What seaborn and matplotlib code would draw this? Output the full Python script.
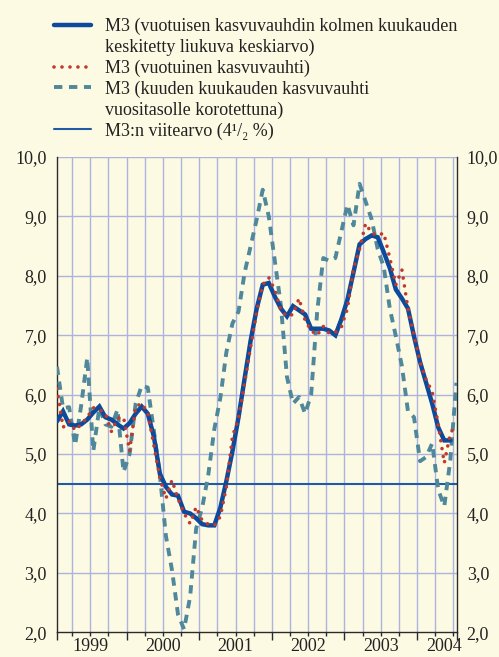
import numpy as np
import pandas as pd
import matplotlib
matplotlib.use("Agg")
import matplotlib.pyplot as plt
import matplotlib.transforms as mtransforms
from matplotlib.lines import Line2D
from matplotlib.font_manager import FontProperties
import seaborn as sns

# ---------------- data (monthly, Jan 1999 = month 0) ----------------
years = ["1999", "2000", "2001", "2002", "2003", "2004"]
year_label_pos = [5.5, 17.5, 29.5, 41.5, 53.5, 64.0]

m3_centered_avg = [5.55, 5.72, 5.50, 5.48, 5.50, 5.58, 5.70, 5.80, 5.62, 5.58, 5.50, 5.43,
                   5.52, 5.68, 5.80, 5.68, 5.30, 4.67, 4.45, 4.32, 4.30, 4.03, 4.00, 3.92,
                   3.82, 3.80, 3.80, 4.10, 4.55, 5.05, 5.62, 6.27, 6.91, 7.45, 7.85, 7.88,
                   7.65, 7.45, 7.32, 7.49, 7.42, 7.35, 7.11, 7.11, 7.11, 7.08, 7.00, 7.27,
                   7.60, 8.06, 8.53, 8.62, 8.68, 8.65, 8.40, 8.13, 7.77, 7.62, 7.45, 6.98,
                   6.55, 6.20, 5.85, 5.45, 5.23, 5.23]

m3_annual = [6.10, 5.45, 5.55, 5.40, 5.50, 5.62, 5.78, 5.75, 5.68, 5.38, 5.60, 5.62,
             5.05, 5.80, 5.85, 5.70, 5.15, 4.60, 4.25, 4.56, 4.25, 4.00, 3.83, 4.11,
             3.88, 3.82, 3.80, 3.95, 4.45, 5.30, 5.60, 6.20, 6.80, 7.40, 7.85, 7.97,
             7.76, 7.42, 7.32, 7.35, 7.62, 7.25, 7.08, 7.00, 7.15, 7.03, 7.05, 7.14,
             7.45, 8.12, 8.45, 8.88, 8.72, 8.68, 8.72, 8.30, 7.85, 8.10, 7.45, 7.00,
             6.55, 6.25, 6.05, 5.50, 4.85, 5.35, 5.50]

m3_six_month = [6.47, 5.77, 5.79, 5.15, 5.82, 6.62, 5.05, 5.78, 5.50, 5.46, 5.75, 4.70,
                5.00, 5.85, 6.15, 6.12, 5.40, 4.65, 3.62, 3.05, 2.30, 2.05, 2.60, 3.75,
                4.10, 4.65, 5.42, 5.95, 6.72, 7.20, 7.40, 8.05, 8.50, 8.95, 9.45, 9.00,
                8.25, 7.50, 6.30, 5.85, 5.96, 5.68, 6.00, 7.40, 8.30, 8.25, 8.30, 8.75,
                9.20, 8.85, 9.55, 9.25, 8.95, 8.45, 8.15, 7.45, 6.98, 6.48, 5.72, 5.62,
                4.88, 4.95, 5.18, 4.40, 4.12, 4.90, 6.20]

reference_value = 4.5

labels = ["M3 (vuotuisen kasvuvauhdin kolmen kuukauden",
          "keskitetty liukuva keskiarvo)",
          "M3 (vuotuinen kasvuvauhti)",
          "M3 (kuuden kuukauden kasvuvauhti",
          "vuositasolle korotettuna)",
          "M3:n viitearvo (4\u00b9/\u2082 %)"]

# ---------------- styling ----------------
BG = "#fdfae4"
GRID = "#aeb3de"
BLUE = "#0b4a9c"
RED = "#c0392b"
TEAL = "#4f879b"
REF = "#1f5aa6"
DARK = "#2a2a2a"

RED_DASH = (0.01, 2.2)
TEAL_DASH = (2.15, 1.7)

sns.set_style("white", {"axes.facecolor": BG, "figure.facecolor": BG})
plt.rcParams["font.family"] = ["Liberation Serif", "DejaVu Serif"]

fig = plt.figure(figsize=(4.99, 6.57), dpi=100)
fig.patch.set_facecolor(BG)
ax = fig.add_axes([0.1136, 0.0376, 0.8022, 0.7234])
ax.set_facecolor(BG)

df_c = pd.DataFrame({"m": np.arange(len(m3_centered_avg)), "v": m3_centered_avg})
df_a = pd.DataFrame({"m": np.arange(len(m3_annual)), "v": m3_annual})
df_s = pd.DataFrame({"m": np.arange(len(m3_six_month)), "v": m3_six_month})

ax.axhline(reference_value, color=REF, lw=1.5, zorder=2)

sns.lineplot(data=df_s, x="m", y="v", ax=ax, color=TEAL, lw=2.8, zorder=3)
ax.lines[-1].set_dashes(TEAL_DASH)
ax.lines[-1].set_dash_capstyle("butt")

sns.lineplot(data=df_c, x="m", y="v", ax=ax, color=BLUE, lw=3.2, zorder=4)
ax.lines[-1].set_solid_joinstyle("miter")

sns.lineplot(data=df_a, x="m", y="v", ax=ax, color=RED, lw=2.6, zorder=5)
ax.lines[-1].set_dashes(RED_DASH)
ax.lines[-1].set_dash_capstyle("round")

# axes limits
ax.set_xlim(-0.05, 66.1)
ax.set_ylim(2, 10)

# grid
yt = np.arange(2, 11, 1)
ax.set_yticks(yt)
ax.set_yticklabels([f"{v:.1f}".replace(".", ",") for v in yt])
year_bounds = [11.5, 23.5, 35.5, 47.5, 59.5]
ax.set_xticks([-0.05] + year_bounds + [66.1])
ax.set_xticks([3 * k - 0.5 for k in range(1, 23)], minor=True)
ax.set_xticklabels([])
for xv in [3 * k - 0.5 for k in range(1, 23)]:
    ax.axvline(xv, color=GRID, lw=1.0, zorder=1)
for yv in yt[1:]:
    ax.axhline(yv, color=GRID, lw=1.0, zorder=1)

for side in ["left", "right", "bottom"]:
    ax.spines[side].set_color(DARK)
    ax.spines[side].set_linewidth(1.0)
ax.spines["top"].set_visible(False)

ax.tick_params(axis="y", which="both", left=False, right=False, labelleft=True,
               labelright=True, length=0, labelsize=13, labelcolor="#222222", pad=7)
ax.tick_params(axis="x", which="major", bottom=True, direction="out", length=6,
               width=1.0, color=DARK)
ax.tick_params(axis="x", which="minor", bottom=True, direction="out", length=3,
               width=1.0, color=DARK)
ax.set_xlabel("")
ax.set_ylabel("")

trans = mtransforms.blended_transform_factory(ax.transData, ax.transAxes)
for lab, pos in zip(years, year_label_pos):
    ax.text(pos, -0.012, lab, transform=trans, ha="center", va="top",
            fontsize=13, color="#222222")

# legend
handles = [Line2D([], [], color=BLUE, lw=3.2),
           Line2D([], [], linestyle="none"),
           Line2D([], [], color=RED, lw=2.6, dashes=RED_DASH, dash_capstyle="round"),
           Line2D([], [], color=TEAL, lw=2.8, dashes=TEAL_DASH, dash_capstyle="butt"),
           Line2D([], [], linestyle="none"),
           Line2D([], [], color=REF, lw=1.5)]
fp = FontProperties(family=["Liberation Serif", "DejaVu Serif"], size=13)
leg = fig.legend(handles, labels, loc="upper left", bbox_to_anchor=(0.108, 0.973),
                 frameon=False, handlelength=2.05, handletextpad=0.78,
                 borderaxespad=0, borderpad=0, labelspacing=0.20, prop=fp)
for t in leg.get_texts():
    t.set_color("#222222")

fig.savefig("out.png", dpi=100, facecolor=BG)
